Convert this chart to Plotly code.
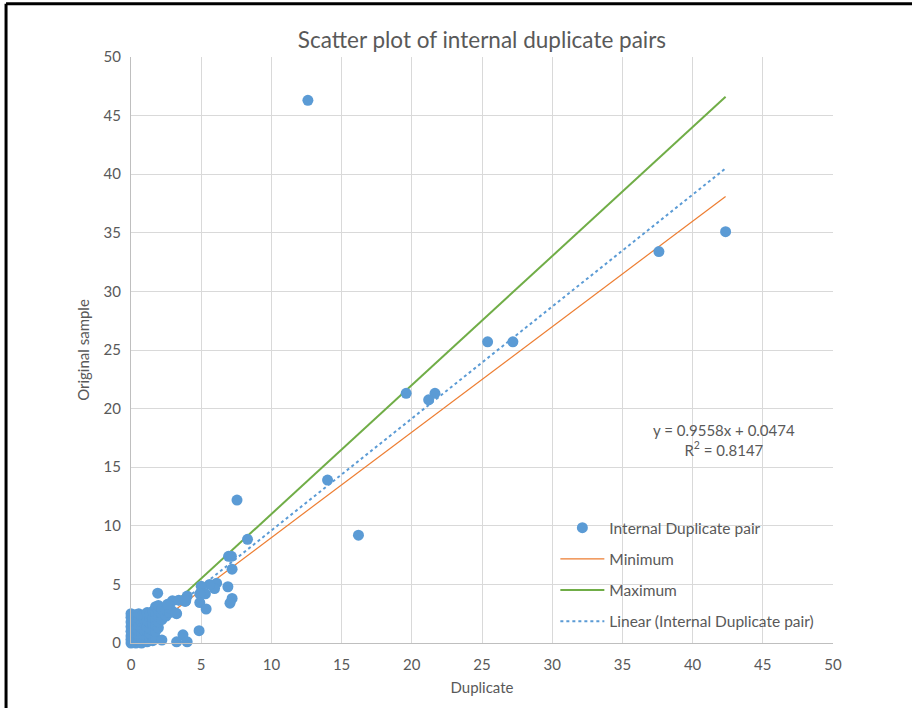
"""Scatter plot of internal duplicate pairs (Excel-style) rebuilt with Plotly."""

import plotly.graph_objects as go

FONT = "Lato"
TEXT_GREY = "#595959"
GRID_GREY = "#D9D9D9"
BLUE = "#5B9BD5"
ORANGE = "#ED7D31"
GREEN = "#70AD47"

# Larger / isolated pairs (duplicate, original)
outlier_dup = [12.6, 42.35, 37.6, 27.2, 25.4, 21.65, 21.2, 19.6, 14.0, 16.2,
               7.55, 8.3, 6.95, 7.15, 7.2, 6.9, 7.2, 7.05, 6.1, 5.95,
               5.6, 5.0, 5.3, 4.9, 4.9, 5.35, 4.85, 4.0, 3.85, 3.25,
               2.95, 3.4, 3.9, 3.7, 4.0, 3.25, 2.2, 1.9, 3.2, 2.6]
outlier_orig = [46.3, 35.1, 33.4, 25.7, 25.7, 21.3, 20.75, 21.3, 13.9, 9.2,
                12.2, 8.85, 7.4, 7.4, 6.3, 4.8, 3.8, 3.4, 5.1, 4.65,
                5.0, 4.85, 4.2, 4.2, 3.45, 2.9, 1.05, 4.0, 3.55, 2.5,
                3.6, 3.65, 3.6, 0.7, 0.1, 0.1, 0.25, 4.25, 2.55, 3.3]

# Dense cluster near the origin
cluster_dup = [0.0] * 8 + [0.15] * 5 + [0.35] * 6 + [0.55] * 6 + [0.75] * 6 \
    + [0.95] * 6 + [1.15] * 6 + [1.35] * 6 + [1.55] * 6 + [1.75] * 6 \
    + [1.95] * 5 + [2.2] * 3 + [2.5] * 2 + [2.75] * 2
cluster_orig = [0.0, 0.3, 0.6, 1.0, 1.4, 1.8, 2.2, 2.5,
                0.1, 0.5, 0.9, 1.6, 2.0,
                0.0, 0.4, 0.8, 1.2, 1.9, 2.4,
                0.2, 0.6, 1.0, 1.5, 2.1, 2.5,
                0.0, 0.4, 0.9, 1.3, 1.8, 2.3,
                0.3, 0.7, 1.1, 1.6, 2.0, 2.4,
                0.1, 0.5, 1.0, 1.4, 1.9, 2.6,
                0.3, 0.8, 1.2, 1.7, 2.2, 2.5,
                0.2, 0.6, 1.1, 1.6, 2.1, 2.7,
                0.4, 1.0, 1.5, 2.0, 2.5, 3.1,
                1.3, 1.8, 2.3, 2.8, 3.2,
                2.0, 2.5, 2.9,
                2.3, 2.8,
                2.6, 3.0]

duplicate = cluster_dup + outlier_dup
original = cluster_orig + outlier_orig

# Reference lines (end points)
min_x = [0.0, 42.35]
min_y = [0.0, 38.1]
max_x = [0.0, 42.35]
max_y = [0.0, 46.6]
trend_x = [0.0, 42.35]
trend_y = [0.05, 40.5]

equation_text = "y = 0.9558x + 0.0474<br>R<sup>2</sup> = 0.8147"

fig = go.Figure()

# lines first so the markers sit on top of them
fig.add_trace(go.Scatter(
    x=min_x, y=min_y, mode="lines", name="Minimum",
    line={"color": ORANGE, "width": 1.2}, legendgroup="b", legendrank=2,
))
fig.add_trace(go.Scatter(
    x=max_x, y=max_y, mode="lines", name="Maximum",
    line={"color": GREEN, "width": 2}, legendgroup="c", legendrank=3,
))
fig.add_trace(go.Scatter(
    x=trend_x, y=trend_y, mode="lines", name="Linear (Internal Duplicate pair)",
    line={"color": BLUE, "width": 2, "dash": "dot"}, legendgroup="d", legendrank=4,
))
fig.add_trace(go.Scatter(
    x=duplicate, y=original, mode="markers", name="Internal Duplicate pair",
    marker={"color": BLUE, "size": 11, "line": {"width": 0}},
    cliponaxis=False, legendgroup="a", legendrank=1,
))

fig.add_annotation(
    x=0.845, y=0.346, xref="paper", yref="paper", text=equation_text,
    showarrow=False, align="center", xanchor="center", yanchor="middle",
    font={"family": FONT, "size": 15, "color": TEXT_GREY},
)

# white panel behind legend (covers gridlines)
fig.add_shape(type="rect", xref="paper", yref="paper",
              x0=0.594, x1=0.995, y0=0.005, y1=0.222,
              fillcolor="white", line={"width": 0}, layer="between")

# screenshot frame: black edge top and left
fig.add_shape(type="line", xref="paper", yref="paper",
              x0=-0.178, x1=1.2, y0=1.091, y1=1.091,
              line={"color": "black", "width": 3})
fig.add_shape(type="line", xref="paper", yref="paper",
              x0=-0.178, x1=-0.178, y0=1.091, y1=-0.2,
              line={"color": "black", "width": 3})

axis_common = {
    "range": [0, 50],
    "dtick": 5,
    "showgrid": True,
    "gridcolor": GRID_GREY,
    "gridwidth": 1,
    "zeroline": False,
    "showline": True,
    "linecolor": "#BFBFBF",
    "tickfont": {"family": FONT, "size": 15, "color": TEXT_GREY},
    "fixedrange": True,
}

fig.update_layout(
    width=912,
    height=708,
    paper_bgcolor="white",
    plot_bgcolor="white",
    margin={"l": 131, "r": 79, "t": 57, "b": 65},
    title={
        "text": "Scatter plot of internal duplicate pairs",
        "font": {"family": FONT, "size": 22.5, "color": TEXT_GREY},
        "x": 0.5285, "xanchor": "center",
        "y": 0.943, "yanchor": "middle",
    },
    xaxis={**axis_common,
           "ticklabelstandoff": 8,
           "title": {"text": "Duplicate", "standoff": 10,
                     "font": {"family": FONT, "size": 15, "color": TEXT_GREY}}},
    yaxis={**axis_common,
           "ticklabelstandoff": 6,
           "title": {"text": "Original sample", "standoff": 10,
                     "font": {"family": FONT, "size": 15, "color": TEXT_GREY}}},
    showlegend=True,
    legend={
        "x": 0.6045, "y": 0.225, "xanchor": "left", "yanchor": "top",
        "bgcolor": "rgba(0,0,0,0)",
        "font": {"family": FONT, "size": 15.5, "color": TEXT_GREY},
        "tracegroupgap": 8,
        "itemwidth": 44,
        "traceorder": "grouped",
    },
)

# drop the default page margin so the figure fills the window
fig.write_html(
    "out.html",
    config={"displayModeBar": False},
    post_script="document.body.style.margin = '0';",
)
